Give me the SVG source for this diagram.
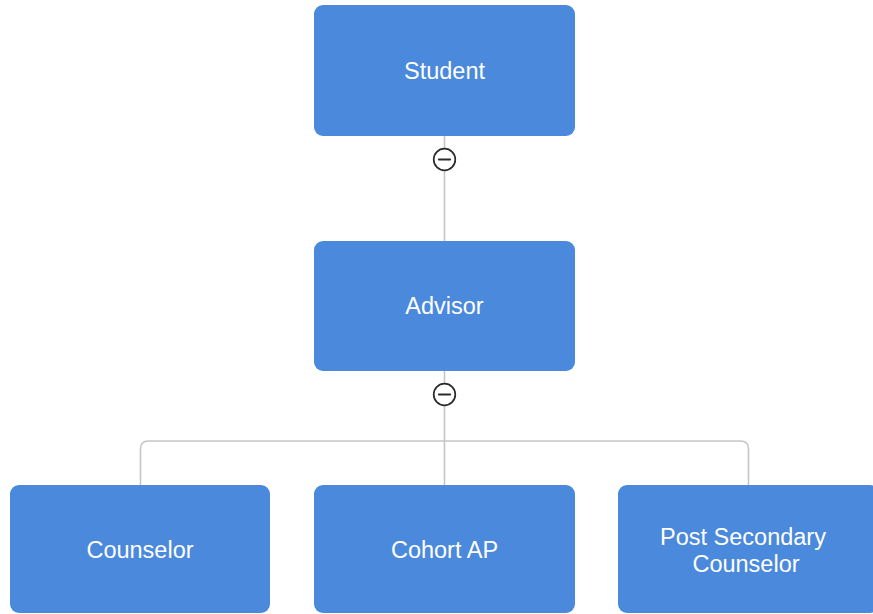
<svg xmlns="http://www.w3.org/2000/svg" width="873" height="614" viewBox="0 0 873 614">
<style>
.box{fill:#4a89dc}
.lbl{fill:#ffffff;font-family:"Liberation Sans",Arial,sans-serif;font-size:23.5px;text-anchor:middle}
.conn{fill:none;stroke:#c6c6c6;stroke-width:1.6}
.tog circle{fill:#ffffff;stroke:#2b2b2b;stroke-width:1.7}
.tog line{stroke:#2b2b2b;stroke-width:2.2;stroke-linecap:round}
</style>
<rect width="873" height="614" fill="#ffffff"/>
<g id="connectors">
<line class="conn" x1="444.5" y1="136" x2="444.5" y2="241"/>
<line class="conn" x1="444.5" y1="371" x2="444.5" y2="485"/>
<path class="conn" d="M140.5 485 V449 Q140.5 441 148.5 441 H740.5 Q748.5 441 748.5 449 V485"/>
<g class="tog"><circle cx="444.5" cy="159.5" r="10.8"/><line x1="439" y1="159.5" x2="450" y2="159.5"/></g>
<g class="tog"><circle cx="444.5" cy="394.5" r="10.8"/><line x1="439" y1="394.5" x2="450" y2="394.5"/></g>
</g>
<g id="student"><rect class="box" x="314" y="5" width="261" height="131" rx="9"/><text class="lbl" x="444.5" y="78.5">Student</text></g>
<g id="advisor"><rect class="box" x="314" y="241" width="261" height="130" rx="9"/><text class="lbl" x="444.5" y="314">Advisor</text></g>
<g id="counselor"><rect class="box" x="10" y="485" width="260" height="128" rx="9"/><text class="lbl" x="140" y="558">Counselor</text></g>
<g id="cohort-ap"><rect class="box" x="314" y="485" width="261" height="128" rx="9"/><text class="lbl" x="444.5" y="558">Cohort AP</text></g>
<g id="post-secondary"><rect class="box" x="618" y="485" width="261" height="128" rx="9"/><text class="lbl" x="743" y="545">Post Secondary</text><text class="lbl" x="746" y="572">Counselor</text></g>
</svg>
